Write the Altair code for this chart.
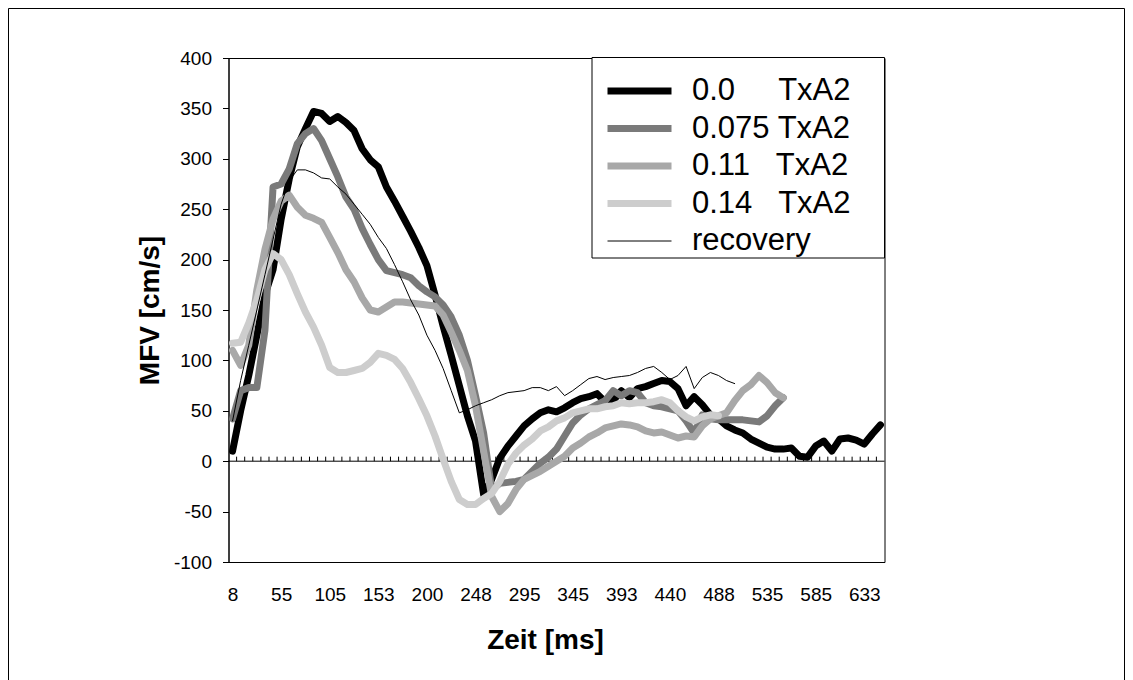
import altair as alt
import pandas as pd

# ---------------- data ----------------
time_labels = ["8", "55", "105", "153", "200", "248", "295", "345", "393",
               "440", "488", "535", "585", "633"]
n_categories = 81
label_every = 6

NB = "\u00a0"
series_names = ["0.0" + NB * 5 + "TxA2", "0.075 TxA2", "0.11" + NB * 3 + "TxA2",
                "0.14" + NB * 3 + "TxA2", "recovery"]
series_colors = ["#000000", "#7a7a7a", "#a8a8a8", "#cdcdcd", "#000000"]
series_widths = [7, 7, 7, 7, 1]

mfv_00 = [10, 50, 85, 125, 165, 190, 240, 280, 312, 330,
          347, 345, 337, 342, 336, 328, 310, 299, 292, 272,
          258, 243, 228, 212, 194, 165, 134, 105, 75, 45,
          20, -33, -18, 3, 15, 25, 35, 42, 48, 51,
          49, 53, 58, 62, 64, 67, 59, 60, 70, 63,
          72, 74, 77, 80, 79, 72, 55, 64, 56, 46,
          42, 35, 31, 28, 22, 18, 14, 12, 12, 13,
          5, 4, 15, 20, 10, 22, 23, 21, 17, 27,
          36]

mfv_075 = [42, 70, 73, 73, 130, 272, 275, 290, 315, 325,
           330, 318, 300, 282, 262, 250, 231, 215, 200, 189,
           187, 185, 182, 174, 168, 163, 155, 143, 125, 100,
           65, 28, -28, -22, -21, -20, -18, -10, -2, 4,
           12, 25, 38, 46, 52, 56, 60, 70, 65, 70,
           68, 58, 55, 54, 52, 50, 40, 28, 46, 42,
           41, 41, 41, 41, 40, 39, 45, 55, 63]

mfv_011 = [110, 95, 115, 170, 210, 240, 258, 264, 252, 244,
           241, 237, 222, 207, 190, 178, 162, 150, 148, 153,
           158, 158, 157, 156, 155, 154, 145, 128, 110, 90,
           55, 10, -35, -50, -42, -28, -18, -14, -10, -5,
           0, 5, 13, 18, 24, 28, 33, 35, 37, 36,
           34, 30, 28, 29, 26, 23, 25, 24, 35, 42,
           45, 48, 60, 70, 76, 85, 78, 68, 63]

mfv_014 = [117, 118, 137, 160, 190, 206, 200, 185, 166, 148,
           133, 115, 93, 88, 88, 90, 92, 98, 107, 105,
           101, 92, 78, 62, 45, 25, 2, -20, -38, -43,
           -43, -37, -32, -20, -3, 8, 16, 22, 30, 34,
           40, 43, 48, 50, 52, 52, 54, 55, 58, 57,
           58, 58, 59, 61, 58, 50, 44, 40, 44, 46,
           45]

mfv_recovery = [40, 80, 115, 150, 185, 220, 255, 278, 289, 289,
                286, 281, 280, 272, 265, 255, 245, 235, 222, 211,
                195, 178, 160, 145, 125, 110, 92, 70, 48, 51,
                55, 58, 61, 65, 68, 69, 70, 73, 73, 70,
                74, 65, 70, 76, 82, 84, 81, 83, 84, 85,
                88, 92, 94, 88, 81, 85, 94, 72, 83, 88,
                85, 80, 77]

all_series = [mfv_00, mfv_075, mfv_011, mfv_014, mfv_recovery]

rows = []
for name, values in zip(series_names, all_series):
    for i, v in enumerate(values):
        rows.append({"idx": i, "mfv": v, "series": name})
df = pd.DataFrame(rows)

label_positions = [k * label_every for k in range(len(time_labels))]
label_expr = "[" + ",".join("'" + t + "'" for t in time_labels) + "][round(datum.value/" + str(label_every) + ")]"

x_scale = alt.Scale(domain=[-0.5, n_categories - 0.5], nice=False, zero=False)
y_scale = alt.Scale(domain=[-100, 400], nice=False, zero=False)

FONT = "Liberation Sans"

x_axis = alt.Axis(values=label_positions, labelExpr=label_expr,
                  title="Zeit [ms]", ticks=False, tickSize=0, domain=False,
                  labelPadding=23, labelFlush=False, grid=False,
                  titleX=316.5, titleY=78, titleAlign="center",
                  titleBaseline="middle")
y_axis = alt.Axis(values=list(range(-100, 401, 50)), title="MFV [cm/s]",
                  labelExpr="'' + datum.value",
                  tickSize=6, labelPadding=11, grid=False, labelFlush=False,
                  titleAngle=270, titleX=-78.5, titleY=252,
                  titleAlign="center", titleBaseline="middle")

legend = alt.Legend(
    title=None, orient="none", legendX=363.5, legendY=5,
    symbolType="M-16,0H16", symbolSize=16, symbolOffset=19.5,
    labelOffset=37, labelFontSize=31, labelFont=FONT, labelColor="black",
    labelLimit=500, padding=12.5, rowPadding=5.5,
)

lines = alt.Chart(df).mark_line(strokeJoin="round", strokeCap="round").encode(
    x=alt.X("idx:Q", scale=x_scale, axis=x_axis),
    y=alt.Y("mfv:Q", scale=y_scale, axis=y_axis),
    color=alt.Color("series:N",
                    scale=alt.Scale(type="ordinal", domain=series_names, range=series_colors),
                    legend=legend),
    strokeWidth=alt.StrokeWidth("series:N",
                                scale=alt.Scale(type="ordinal", domain=series_names,
                                                range=series_widths),
                                legend=legend),
    order=alt.Order("idx:Q"),
)

zero_line = alt.Chart(pd.DataFrame({"mfv": [0]})).mark_rule(
    color="black", strokeWidth=1).encode(y=alt.Y("mfv:Q", scale=y_scale, axis=y_axis))

bounds = pd.DataFrame({"idx": [k + 0.5 for k in range(n_categories - 1)]})
zero_ticks = alt.Chart(bounds).mark_rule(color="black", strokeWidth=1).encode(
    x=alt.X("idx:Q", scale=x_scale, axis=x_axis),
    y=alt.datum(0),
    y2=alt.datum(4.5),
)

legend_box = alt.Chart(pd.DataFrame({"a": [0]})).mark_rect(
    fill="white", stroke="black", strokeWidth=1).encode(
    x=alt.value(363.5), x2=alt.value(656), y=alt.value(-0.5), y2=alt.value(200))

frame = alt.Chart(pd.DataFrame({"a": [0]})).mark_rect(
    fillOpacity=0, stroke="black", strokeWidth=1).encode(
    x=alt.value(-220), x2=alt.value(896), y=alt.value(-49.5), y2=alt.value(700))

chart = alt.layer(zero_ticks, zero_line, lines, legend_box, frame).properties(
    width=656, height=504,
    padding={"left": 220.5, "top": 50, "right": 240.5, "bottom": 118},
    autosize=alt.AutoSizeParams(type="none"),
    background="white",
).configure_view(
    stroke="black", strokeWidth=1
).configure_axis(
    labelFont=FONT, labelFontSize=19, labelColor="black",
    titleFont=FONT, titleFontSize=28, titleFontWeight="bold", titleColor="black",
    domainColor="black", tickColor="black", domainWidth=1, tickWidth=1,
)

chart.save("out.html", embed_options={"renderer": "svg", "actions": False})
